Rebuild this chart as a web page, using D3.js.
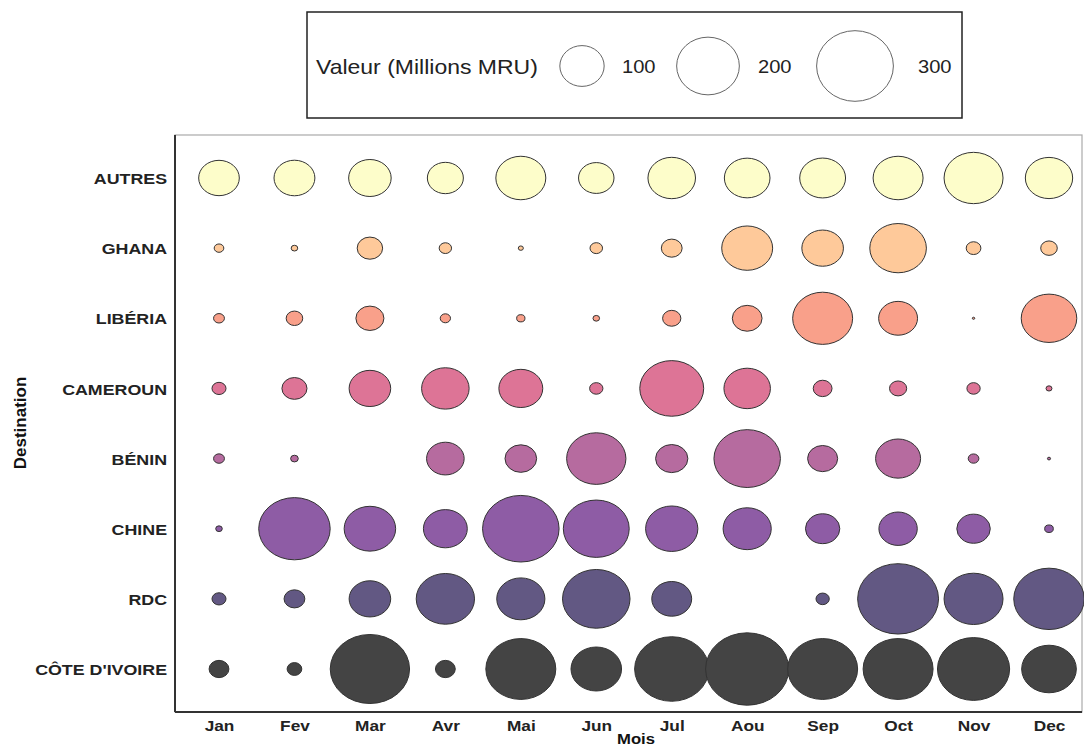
<!DOCTYPE html>
<html>
<head>
<meta charset="utf-8">
<script src="https://cdn.jsdelivr.net/npm/d3@7"></script>
<style>
  html, body { margin: 0; padding: 0; background: #fff; }
  svg { display: block; }
</style>
</head>
<body>
<script>
const months = ["Jan","Fev","Mar","Avr","Mai","Jun","Jul","Aou","Sep","Oct","Nov","Dec"];
const destinations = ["AUTRES","GHANA","LIBÉRIA","CAMEROUN","BÉNIN","CHINE","RDC","CÔTE D'IVOIRE"];
const colors = ["#FDFDCA","#FEC99A","#F9A08A","#DD7496","#B66B9F","#8E5CA5","#625883","#444444"];

// Valeur (Millions MRU), one array per destination, Jan..Dec
const autres      = [84, 85, 92, 66, 127, 64, 115, 106, 107, 127, 177, 114];
const ghana       = [4.7, 2.2, 33, 7.8, 1.3, 8, 22, 132, 88, 163, 11, 14];
const liberia     = [6, 14, 40, 5.4, 3.5, 2.2, 17, 45, 183, 77, 0.3, 157];
const cameroun    = [10, 32, 88, 115, 98, 9, 208, 110, 18, 15, 9, 1.8];
const benin       = [6, 3, 0, 72, 51, 179, 53, 225, 46, 103, 5.8, 0.5];
const chine       = [2.2, 260, 135, 98, 298, 221, 139, 118, 60, 75, 57, 3.8];
const rdc         = [10, 22, 88, 173, 118, 232, 81, 0, 9, 333, 177, 253];
const coteIvoire  = [20, 11, 320, 20, 249, 130, 280, 352, 249, 249, 265, 152];

const legendValues = [100, 200, 300];

const seriesValues = [autres, ghana, liberia, cameroun, benin, chine, rdc, coteIvoire];

const W = 1084, H = 748;
const svg = d3.select("body").append("svg").attr("width", W).attr("height", H);

const plot = {left: 175, top: 135, right: 1082, bottom: 712};
const SX = 1.15; // horizontal stretch of the original picture
const FONT = "'Liberation Sans', Arial, sans-serif";

const x = d3.scalePoint().domain(months).range([219, 1049]);
const y = d3.scalePoint().domain(destinations).range([178, 669]);
const r = d3.scaleSqrt().domain([0, 300]).range([0, 38.4]);
const yRatio = 0.87;
const color = d3.scaleOrdinal().domain(destinations).range(colors);

// plot frame
svg.append("rect")
  .attr("x", plot.left).attr("y", plot.top)
  .attr("width", plot.right - plot.left).attr("height", plot.bottom - plot.top)
  .attr("fill", "none").attr("stroke", "#aaaaaa").attr("stroke-width", 1.2);

// data
const data = [];
destinations.forEach((d, i) => {
  months.forEach((m, j) => {
    data.push({dest: d, month: m, value: seriesValues[i][j]});
  });
});

svg.append("g").selectAll("ellipse")
  .data(data.filter(d => d.value > 0))
  .join("ellipse")
  .attr("cx", d => x(d.month))
  .attr("cy", d => y(d.dest))
  .attr("rx", d => r(d.value))
  .attr("ry", d => r(d.value) * yRatio)
  .attr("fill", d => color(d.dest))
  .attr("stroke", "#333")
  .attr("stroke-width", 1);

// axes lines
svg.append("line")
  .attr("x1", plot.left).attr("x2", plot.left)
  .attr("y1", plot.top).attr("y2", plot.bottom)
  .attr("stroke", "#333").attr("stroke-width", 2);
svg.append("line")
  .attr("x1", plot.left).attr("x2", plot.right)
  .attr("y1", plot.bottom).attr("y2", plot.bottom)
  .attr("stroke", "#333").attr("stroke-width", 2);

// x axis
const xAxis = svg.append("g")
  .attr("transform", `translate(0,${plot.bottom})`)
  .call(d3.axisBottom(x).tickSize(0).tickPadding(8));
xAxis.select(".domain").remove();
xAxis.selectAll("text")
  .attr("y", 19).attr("dy", null)
  .attr("transform", `scale(${SX},1)`)
  .attr("font-family", FONT)
  .attr("font-weight", "bold").attr("font-size", 15).attr("fill", "#222");

// y axis
const yAxis = svg.append("g")
  .attr("transform", `translate(${plot.left},0)`)
  .call(d3.axisLeft(y).tickSize(0).tickPadding(8));
yAxis.select(".domain").remove();
yAxis.selectAll("text")
  .attr("x", -8 / SX)
  .attr("dy", "0.36em")
  .attr("transform", `scale(${SX},1)`)
  .attr("font-family", FONT)
  .attr("font-weight", "bold").attr("font-size", 15.5).attr("fill", "#222");

// axis titles
svg.append("text")
  .attr("transform", `translate(636,744) scale(${SX},1)`)
  .attr("text-anchor", "middle")
  .attr("font-family", FONT)
  .attr("font-weight", "bold").attr("font-size", 14.5).attr("fill", "#111")
  .text("Mois");
svg.append("text")
  .attr("transform", "translate(26,423) rotate(-90)")
  .attr("text-anchor", "middle")
  .attr("font-family", "'Liberation Sans Narrow', 'Liberation Sans', Arial, sans-serif")
  .attr("font-weight", "bold").attr("font-size", 17).attr("fill", "#111")
  .text("Destination");

// legend
const lg = svg.append("g");
lg.append("rect")
  .attr("x", 307).attr("y", 12).attr("width", 655).attr("height", 106)
  .attr("fill", "#fff").attr("stroke", "#222").attr("stroke-width", 1.5);
lg.append("text")
  .attr("transform", `translate(316,74) scale(${SX},1)`)
  .attr("font-family", FONT)
  .attr("font-size", 20).attr("fill", "#222")
  .text("Valeur (Millions MRU)");
const legendCx = d3.scaleLinear().domain([100, 200, 300]).range([582, 708, 855]);
const legendLx = d3.scaleLinear().domain([100, 200, 300]).range([622, 758, 918]);
const lgItems = lg.selectAll("g.item").data(legendValues).join("g").attr("class", "item");
lgItems.append("ellipse")
  .attr("cx", d => legendCx(d))
  .attr("cy", 66)
  .attr("rx", d => r(d))
  .attr("ry", d => r(d) * 0.92)
  .attr("fill", "none").attr("stroke", "#666").attr("stroke-width", 1);
lgItems.append("text")
  .attr("transform", d => `translate(${legendLx(d)},73) scale(${SX},1)`)
  .attr("font-family", FONT)
  .attr("font-size", 17.5).attr("fill", "#222")
  .text(d => d);
</script>
</body>
</html>
